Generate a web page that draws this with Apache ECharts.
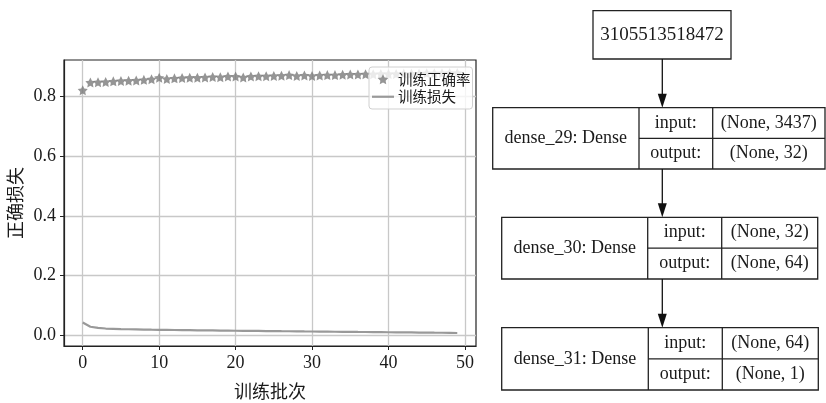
<!DOCTYPE html>
<html>
<head>
<meta charset="utf-8">
<script src="https://cdn.jsdelivr.net/npm/echarts@6/dist/echarts.min.js"></script>
<style>
  html, body { margin: 0; padding: 0; background: #ffffff; }
  #chart { width: 826px; height: 403px; }
</style>
</head>
<body>
<div id="chart"></div>
<script>
// Training history: accuracy and loss per epoch
const accuracy = [
  0.821, 0.847, 0.848, 0.849, 0.851, 0.852, 0.853, 0.854, 0.856, 0.858,
  0.863, 0.859, 0.861, 0.862, 0.863, 0.863, 0.864, 0.866, 0.865, 0.867,
  0.867, 0.864, 0.867, 0.868, 0.868, 0.869, 0.870, 0.872, 0.869, 0.871,
  0.869, 0.871, 0.872, 0.872, 0.873, 0.874, 0.874, 0.875, 0.875, 0.876,
  0.876, 0.876, 0.877, 0.877, 0.877, 0.878, 0.878, 0.878, 0.879, 0.879
];
const loss = [
  0.042, 0.028, 0.024, 0.022, 0.021, 0.020, 0.0195, 0.019, 0.0185, 0.018,
  0.0178, 0.0175, 0.017, 0.0168, 0.0165, 0.016, 0.0158, 0.0155, 0.015, 0.0148,
  0.0145, 0.0143, 0.014, 0.0138, 0.0135, 0.0133, 0.013, 0.0128, 0.0125, 0.0122,
  0.012, 0.0118, 0.0115, 0.0112, 0.011, 0.0108, 0.0105, 0.0103, 0.010, 0.0098,
  0.0095, 0.0093, 0.009, 0.0088, 0.0085, 0.0083, 0.008, 0.0078, 0.0075, 0.007
];
const seriesNames = ['训练正确率', '训练损失'];
const xTicks = [0, 10, 20, 30, 40, 50];
const yTicks = [0.0, 0.2, 0.4, 0.6, 0.8];
const xAxisName = '训练批次';
const yAxisName = '正确损失';

// Model structure
const inputNodeLabel = '3105513518472';
const layerNames = ['dense_29: Dense', 'dense_30: Dense', 'dense_31: Dense'];
const layerInputs = ['(None, 3437)', '(None, 32)', '(None, 64)'];
const layerOutputs = ['(None, 32)', '(None, 64)', '(None, 1)'];
const portLabels = ['input:', 'output:'];

const STAR = 'path://M0,-10L2.94,-4.05L9.51,-3.09L4.76,1.55L5.88,8.09L0,5L-5.88,8.09L-4.76,1.55L-9.51,-3.09L-2.94,-4.05Z';
const LINE_ICON = 'path://M0,0L22,0L22,2.2L0,2.2Z';
const SERIF = '"Liberation Serif", "Times New Roman", serif';
const CJK = '"Noto Sans CJK SC", sans-serif';
const INK = '#1a1a1a';

// axis range with a 5% margin around the data (matplotlib style)
const xLo = 0, xHi = accuracy.length - 1;
const xPad = (xHi - xLo) * 0.05;
const allY = accuracy.concat(loss);
const yLo = Math.min.apply(null, allY), yHi = Math.max.apply(null, allY);
const yPad = (yHi - yLo) * 0.05;

// ---- diagram layout ----
const CX = 662.3; // arrow column
const topBox = { x: 593, y: 10.7, w: 138, h: 48.3 };
const boxes = [
  { x0: 492.7, x1: 639, x2: 712.7, x3: 825, y0: 107.7, y1: 169 },
  { x0: 501.7, x1: 647.7, x2: 721.7, x3: 817.7, y0: 217.3, y1: 279 },
  { x0: 501.7, x1: 648.3, x2: 722.3, x3: 818.3, y0: 327.7, y1: 390 }
];
const lineStyle = { stroke: '#222', lineWidth: 1.3, fill: null };
const graphics = [];
function txt(x, y, s, size) {
  graphics.push({
    type: 'text', x: x, y: y,
    style: { text: s, fill: INK, font: size + 'px ' + SERIF, align: 'center', verticalAlign: 'middle' }
  });
}
function arrow(yFrom, yTo) {
  graphics.push({ type: 'line', shape: { x1: CX, y1: yFrom, x2: CX, y2: yTo - 12 }, style: { stroke: '#111', lineWidth: 1.3 } });
  graphics.push({ type: 'polygon', shape: { points: [[CX - 4.5, yTo - 14], [CX + 4.5, yTo - 14], [CX, yTo]] }, style: { fill: '#111' } });
}
graphics.push({ type: 'rect', shape: { x: topBox.x, y: topBox.y, width: topBox.w, height: topBox.h }, style: lineStyle });
txt(topBox.x + topBox.w / 2, topBox.y + topBox.h / 2, inputNodeLabel, 19);
let prevBottom = topBox.y + topBox.h;
boxes.forEach(function (b, i) {
  arrow(prevBottom, b.y0);
  const ym = (b.y0 + b.y1) / 2;
  graphics.push({ type: 'rect', shape: { x: b.x0, y: b.y0, width: b.x3 - b.x0, height: b.y1 - b.y0 }, style: lineStyle });
  graphics.push({ type: 'line', shape: { x1: b.x1, y1: b.y0, x2: b.x1, y2: b.y1 }, style: lineStyle });
  graphics.push({ type: 'line', shape: { x1: b.x2, y1: b.y0, x2: b.x2, y2: b.y1 }, style: lineStyle });
  graphics.push({ type: 'line', shape: { x1: b.x1, y1: ym, x2: b.x3, y2: ym }, style: lineStyle });
  txt((b.x0 + b.x1) / 2, ym, layerNames[i], 18);
  txt((b.x1 + b.x2) / 2, (b.y0 + ym) / 2, portLabels[0], 18);
  txt((b.x1 + b.x2) / 2, (ym + b.y1) / 2, portLabels[1], 18);
  txt((b.x2 + b.x3) / 2, (b.y0 + ym) / 2, layerInputs[i], 18);
  txt((b.x2 + b.x3) / 2, (ym + b.y1) / 2, layerOutputs[i], 18);
  prevBottom = b.y1;
});

const chart = echarts.init(document.getElementById('chart'), null, { renderer: 'canvas' });
chart.setOption({
  backgroundColor: '#ffffff',
  animation: false,
  grid: {
    left: 64, right: 350, top: 60, bottom: 57,
    containLabel: false, outerBoundsMode: 'none',
    show: true, borderColor: '#222', borderWidth: 1.2, backgroundColor: 'transparent'
  },
  legend: {
    orient: 'vertical', left: 369, top: 67,
    padding: [5, 2, 5, 3], itemGap: 3, itemWidth: 22, itemHeight: 10,
    backgroundColor: 'rgba(255,255,255,0.8)', borderColor: '#d0d0d0', borderWidth: 1, borderRadius: 3,
    textStyle: { fontFamily: CJK, fontSize: 14.5, color: INK, padding: [0, 0, 0, -1] },
    data: [
      { name: seriesNames[0], icon: STAR },
      { name: seriesNames[1], icon: LINE_ICON }
    ]
  },
  xAxis: {
    type: 'value', min: xLo - xPad, max: xHi + xPad,
    name: xAxisName, nameLocation: 'middle', nameGap: 36,
    nameTextStyle: { fontFamily: CJK, fontSize: 18, color: INK },
    axisLine: { show: true, onZero: false, lineStyle: { color: '#222', width: 1.2 } },
    axisTick: { show: true, inside: false, length: 4, customValues: xTicks, lineStyle: { color: '#222' } },
    axisLabel: { customValues: xTicks, margin: 8, fontFamily: SERIF, fontSize: 18, color: INK, formatter: function (v) { return String(Math.round(v)); } },
    splitLine: { show: true, lineStyle: { color: '#c8c8c8', width: 1.3 } }
  },
  yAxis: {
    type: 'value', min: yLo - yPad, max: yHi + yPad,
    name: yAxisName, nameLocation: 'middle', nameGap: 40, nameRotate: 90,
    nameTextStyle: { fontFamily: CJK, fontSize: 18, color: INK },
    axisLine: { show: true, onZero: false, lineStyle: { color: '#222', width: 1.2 } },
    axisTick: { show: true, inside: false, length: 4, customValues: yTicks, lineStyle: { color: '#222' } },
    axisLabel: { customValues: yTicks, margin: 8, fontFamily: SERIF, fontSize: 18, color: INK, formatter: function (v) { return v.toFixed(1); } },
    splitLine: { show: true, lineStyle: { color: '#c8c8c8', width: 1.3 } }
  },
  series: [
    {
      name: seriesNames[0], type: 'scatter', symbol: STAR, symbolSize: 10,
      itemStyle: { color: '#7a7a7a' },
      data: accuracy.map(function (v, i) { return [i, v]; }),
      z: 3
    },
    {
      name: seriesNames[1], type: 'line', symbol: 'none', showSymbol: false,
      lineStyle: { color: '#999999', width: 2.2 }, itemStyle: { color: '#999999' },
      data: loss.map(function (v, i) { return [i, v]; }),
      z: 3
    }
  ],
  graphic: { elements: graphics }
});
</script>
</body>
</html>
